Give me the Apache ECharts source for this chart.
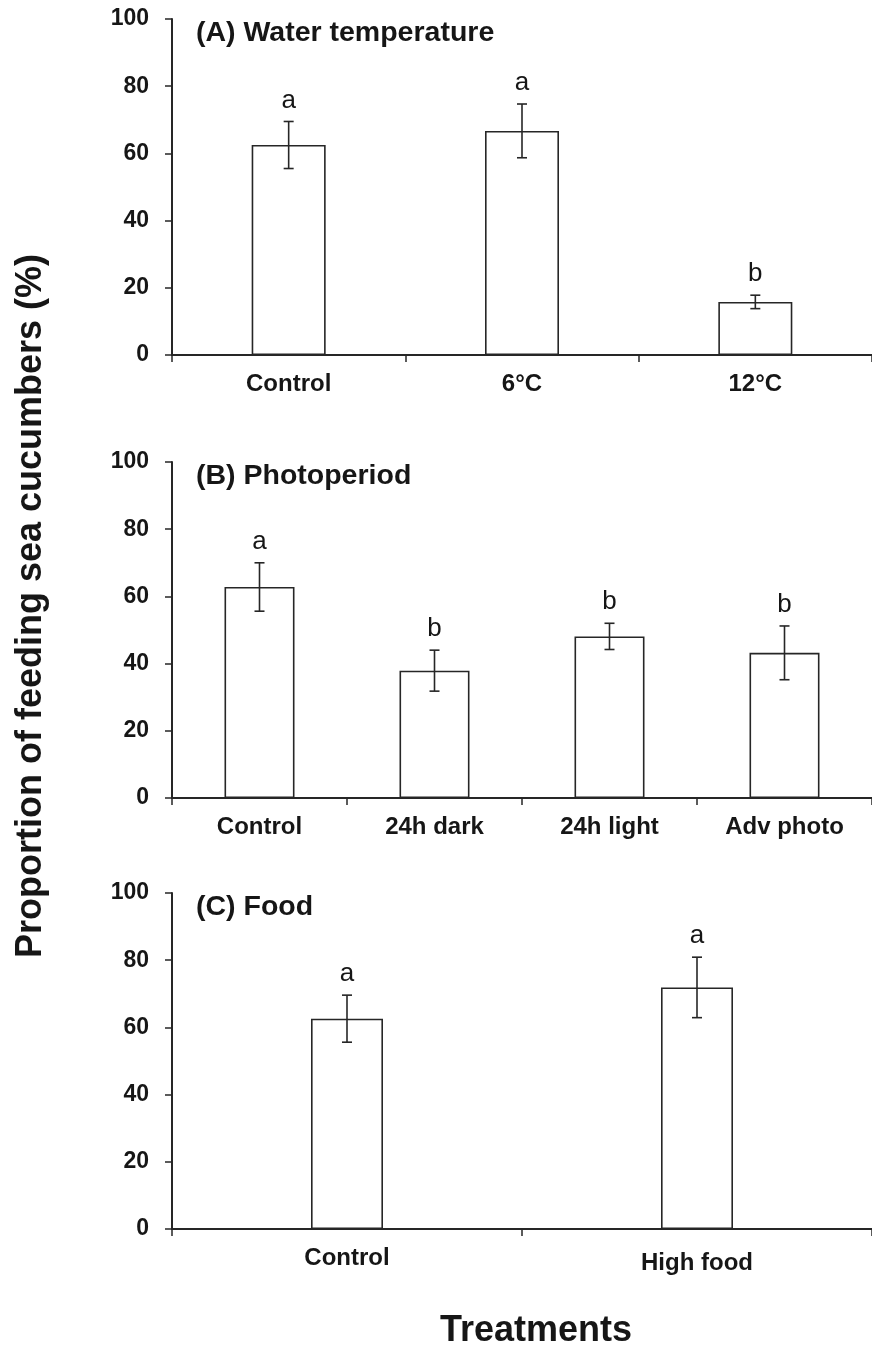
<!DOCTYPE html>
<html>
<head>
<meta charset="utf-8">
<script src="https://cdn.jsdelivr.net/npm/echarts@6/dist/echarts.min.js"></script>
<style>
  html, body { margin: 0; padding: 0; background: #fff; }
  #chart { width: 872px; height: 1349px; }
</style>
</head>
<body>
<div id="chart"></div>
<script>
// Panel A: water temperature
const catsA = ['Control', '6°C', '12°C'];
const meanA = [62.5, 66.7, 15.8];
const errA = [7.0, 8.0, 2.0];
const letterA = ['a', 'a', 'b'];

// Panel B: photoperiod
const catsB = ['Control', '24h dark', '24h light', 'Adv photo'];
const meanB = [62.8, 37.9, 48.1, 43.2];
const errB = [7.2, 6.1, 3.9, 8.0];
const letterB = ['a', 'b', 'b', 'b'];

// Panel C: food
const catsC = ['Control', 'High food'];
const meanC = [62.6, 71.9];
const errC = [7.0, 9.0];
const letterC = ['a', 'a'];

const yTicks = [0, 20, 40, 60, 80, 100];

const FONT = 'Liberation Sans, Arial, Helvetica, sans-serif';
const INK = '#161616';
const LINE = '#262626';

const panels = [
  { title: '(A) Water temperature', cats: catsA, mean: meanA, err: errA, letters: letterA, top: 19, barWidth: 74 },
  { title: '(B) Photoperiod', cats: catsB, mean: meanB, err: errB, letters: letterB, top: 462, barWidth: 70 },
  { title: '(C) Food', cats: catsC, mean: meanC, err: errC, letters: letterC, top: 893, barWidth: 72 }
];

const PLOT_LEFT = 172;
const PLOT_W = 705;
const PLOT_H = 336;

const grid = [], xAxis = [], yAxis = [], series = [], title = [];

panels.forEach((p, i) => {
  grid.push({ left: PLOT_LEFT, top: p.top, width: PLOT_W, height: PLOT_H, containLabel: false });

  xAxis.push({
    type: 'category',
    gridIndex: i,
    data: p.cats.map((c, k) => (i === 2 && k === 1)
      ? { value: c, textStyle: { padding: [5, 0, 0, 0] } }
      : c),
    boundaryGap: true,
    axisLine: { show: true, lineStyle: { color: LINE, width: 2 } },
    axisTick: { show: true, inside: false, length: 7, alignWithLabel: false, lineStyle: { color: LINE, width: 1.5 } },
    axisLabel: { fontFamily: FONT, fontWeight: 'bold', fontSize: 24, color: INK, margin: 17 },
    splitLine: { show: false }
  });

  yAxis.push({
    type: 'value',
    gridIndex: i,
    min: yTicks[0],
    max: yTicks[yTicks.length - 1],
    interval: yTicks[1] - yTicks[0],
    axisLine: { show: true, lineStyle: { color: LINE, width: 2 } },
    axisTick: { show: true, inside: false, length: 7, lineStyle: { color: LINE, width: 1.5 } },
    axisLabel: { fontFamily: FONT, fontWeight: 'bold', fontSize: 23, color: INK, margin: 23 },
    splitLine: { show: false }
  });

  series.push({
    type: 'bar',
    xAxisIndex: i,
    yAxisIndex: i,
    barWidth: p.barWidth,
    data: p.mean,
    itemStyle: { color: '#ffffff', borderColor: LINE, borderWidth: 1.6 },
    silent: true,
    z: 2
  });

  // error bars with significance letters above them
  const letters = p.letters;
  series.push({
    type: 'custom',
    xAxisIndex: i,
    yAxisIndex: i,
    data: p.mean.map((m, k) => [k, m, p.err[k]]),
    z: 3,
    silent: true,
    renderItem: function (params, api) {
      const idx = api.value(0);
      const m = api.value(1);
      const e = api.value(2);
      const hi = api.coord([idx, m + e]);
      const lo = api.coord([idx, m - e]);
      const cap = 5;
      const style = { stroke: LINE, lineWidth: 1.6 };
      return {
        type: 'group',
        children: [
          { type: 'line', shape: { x1: hi[0], y1: hi[1], x2: lo[0], y2: lo[1] }, style: style },
          { type: 'line', shape: { x1: hi[0] - cap, y1: hi[1], x2: hi[0] + cap, y2: hi[1] }, style: style },
          { type: 'line', shape: { x1: lo[0] - cap, y1: lo[1], x2: lo[0] + cap, y2: lo[1] }, style: style },
          {
            type: 'text',
            x: hi[0],
            y: hi[1] - 21,
            style: {
              text: letters[params.dataIndex],
              fontFamily: FONT,
              fontSize: 26,
              fill: INK,
              align: 'center',
              verticalAlign: 'middle'
            }
          }
        ]
      };
    }
  });

  title.push({
    text: p.title,
    left: 191,
    top: p.top - 5,
    textStyle: { fontFamily: FONT, fontWeight: 'bold', fontSize: 28.5, color: INK }
  });
});

const chart = echarts.init(document.getElementById('chart'), null, { renderer: 'canvas' });
chart.setOption({
  backgroundColor: '#ffffff',
  animation: false,
  title: title,
  grid: grid,
  xAxis: xAxis,
  yAxis: yAxis,
  series: series,
  graphic: [
    {
      type: 'text',
      x: 31,
      y: 606,
      rotation: Math.PI / 2,
      style: {
        text: 'Proportion of feeding sea cucumbers (%)',
        fontFamily: FONT,
        fontWeight: 'bold',
        fontSize: 36,
        fill: INK,
        align: 'center',
        verticalAlign: 'middle'
      }
    },
    {
      type: 'text',
      x: 536,
      y: 1331,
      style: {
        text: 'Treatments',
        fontFamily: FONT,
        fontWeight: 'bold',
        fontSize: 36,
        fill: INK,
        align: 'center',
        verticalAlign: 'middle'
      }
    }
  ]
});
</script>
</body>
</html>
